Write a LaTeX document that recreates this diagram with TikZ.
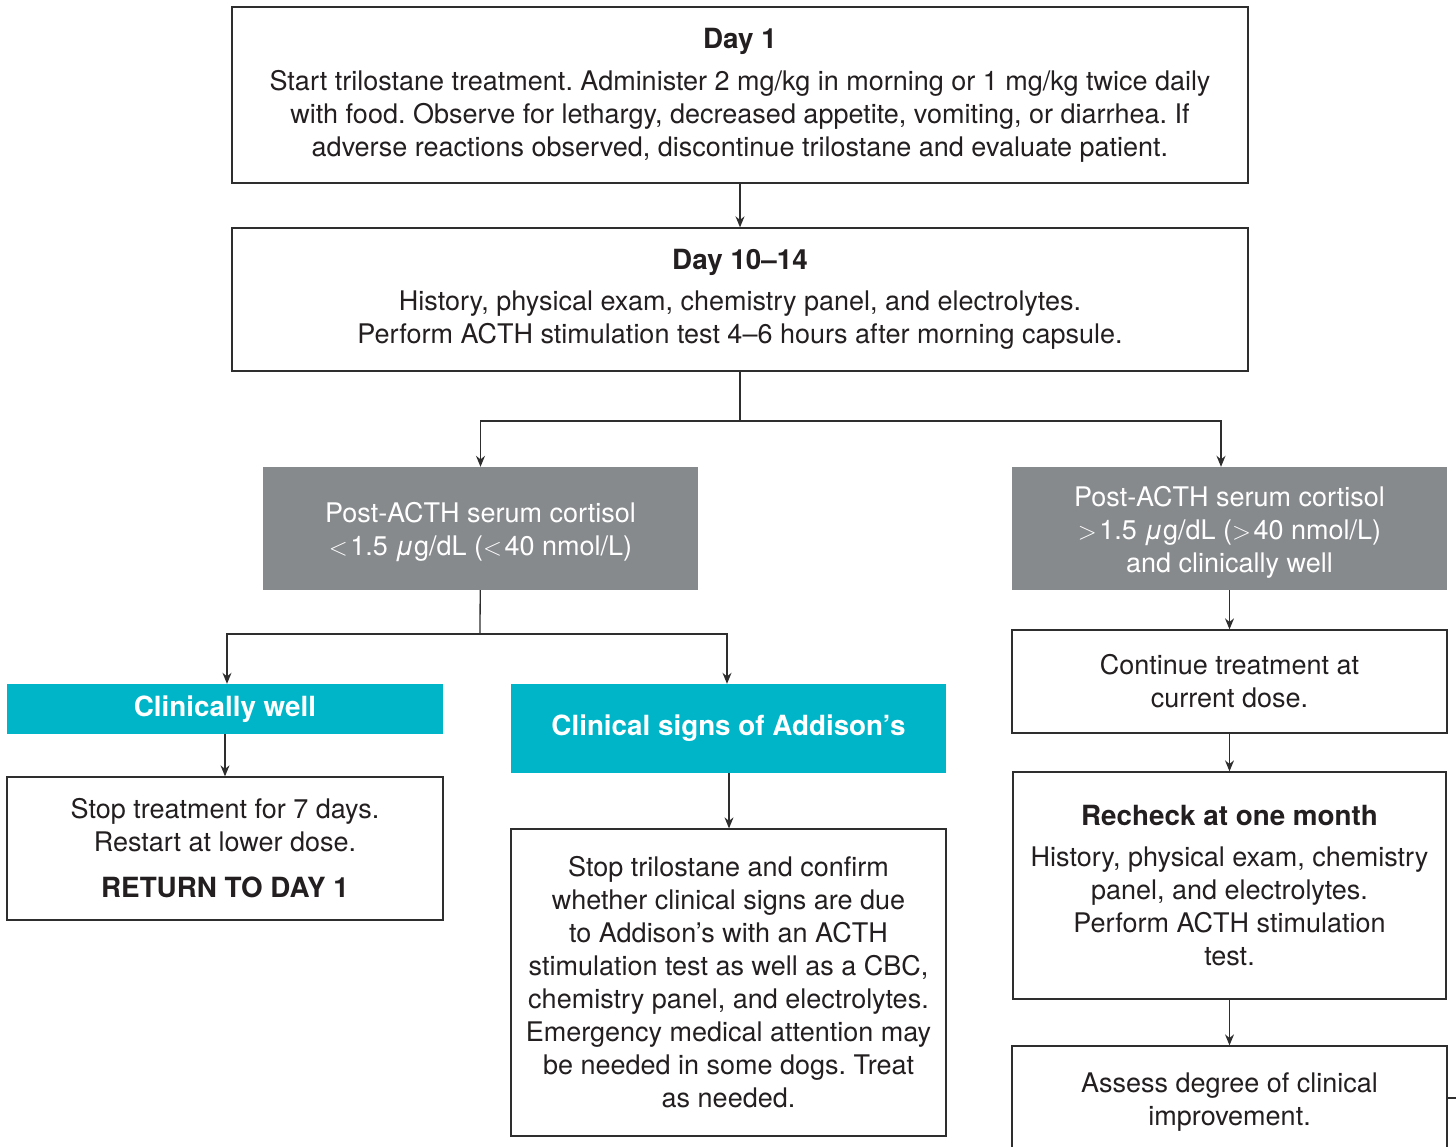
\documentclass[tikz,border=0pt]{standalone}
\usepackage{fontspec}
\setmainfont{TeX Gyre Heros}
\usetikzlibrary{arrows.meta}
\definecolor{txt}{HTML}{231F20}
\definecolor{linec}{HTML}{2E2E2E}
\definecolor{gbox}{HTML}{878A8D}
\definecolor{tealbox}{HTML}{00B5C8}
\newcommand{\bt}[1]{{\fontsize{27.8}{33}\selectfont\bfseries #1}}
\tikzset{
  base/.style={align=center, inner sep=0pt, font=\fontsize{27}{33}\selectfont\frenchspacing},
  wbox/.style={base, draw=linec, line width=1.3pt, fill=white, text=txt},
  gboxs/.style={base, fill=gbox, text=white},
  gtext/.style={base, text=white},
  tbox/.style={base, fill=tealbox, text=white, font=\fontsize{27.8}{33}\selectfont\bfseries},
  conn/.style={draw=linec, line width=1.3pt},
  arr/.style={conn, -{Stealth[length=11pt,width=9pt]}},
}
\begin{document}
\begin{tikzpicture}[x=1pt,y=-1pt]
\useasboundingbox (0,0) rectangle (1456,1147);
\node[wbox, minimum width=1016pt, minimum height=176pt] (day1) at (740,95)
  {\bt{Day 1}\\[9pt]Start trilostane treatment. Administer 2 mg/kg in morning or 1 mg/kg twice daily\\with food. Observe for lethargy, decreased appetite, vomiting, or diarrhea. If\\adverse reactions observed, discontinue trilostane and evaluate patient.};
\node[wbox, minimum width=1016pt, minimum height=143pt] (day10) at (740,299.5)
  {\bt{Day 10–14}\\[8pt]History, physical exam, chemistry panel, and electrolytes.\\Perform ACTH stimulation test 4–6 hours after morning capsule.};
\node[gboxs, minimum width=435pt, minimum height=123pt] (greyL) at (480.5,528.5) {};
\node[gtext] (greyLt) at ([yshift=-3.5pt]greyL.center)
  {Post-ACTH serum cortisol\\$<$\hspace{2.5pt}1.5 {\itshape μ}g/dL ($<$\hspace{2.5pt}40 nmol/L)};
\node[gboxs, minimum width=435pt, minimum height=123pt] (greyR) at (1229.5,528.5) {};
\node[gtext] (greyRt) at ([yshift=-3.5pt]greyR.center)
  {Post-ACTH serum cortisol\\$>$\hspace{2.5pt}1.5 {\itshape μ}g/dL ($>$\hspace{2.5pt}40 nmol/L)\\and clinically well};
\node[tbox, minimum width=436pt, minimum height=50pt] (well) at (225,709) {Clinically well};
\node[tbox, minimum width=435pt, minimum height=89pt] (addison) at (728.5,728.5) {Clinical signs of Addison’s};
\node[wbox, minimum width=436pt, minimum height=143pt] (stop) at (225,848.5)
  {Stop treatment for 7 days.\\Restart at lower dose.\\[13pt]\bt{RETURN TO DAY 1}};
\node[wbox, minimum width=435pt, minimum height=307pt] (stoptri) at (728.5,982.5)
  {Stop trilostane and confirm\\whether clinical signs are due\\to Addison’s with an ACTH\\stimulation test as well as a CBC,\\chemistry panel, and electrolytes.\\Emergency medical attention may\\be needed in some dogs. Treat\\as needed.};
\node[wbox, minimum width=435pt, minimum height=103pt] (cont) at (1229.5,681.5)
  {Continue treatment at\\current dose.};
\node[wbox, minimum width=433pt, minimum height=227pt] (recheck) at (1229.5,885.5)
  {\bt{Recheck at one month}\\[8pt]History, physical exam, chemistry\\panel, and electrolytes.\\Perform ACTH stimulation\\test.};
\node[wbox, minimum width=435pt, minimum height=113pt] (assess) at (1229.5,1102.5)
  {Assess degree of clinical\\improvement.};
\coordinate (split1) at (740,421);
\coordinate (split2) at (480,634);
\coordinate (exitR) at (1456,1098);
\draw[arr] (day1) -- (day10);
\draw[conn] (day10) -- (split1);
\draw[arr] (split1) -| (greyL.north);
\draw[arr] (split1) -| ([xshift=-8.5pt]greyR.north);
\draw[conn] (greyL) -- (split2);
\draw[arr] (split2) -| ([xshift=2pt]well.north);
\draw[arr] (split2) -| ([xshift=-1.5pt]addison.north);
\draw[arr] (well) -- (stop);
\draw[arr] ([xshift=0.5pt]addison.south) -- ([xshift=0.5pt]stoptri.north);
\draw[arr] (greyR) -- (cont);
\draw[arr] (cont) -- (recheck);
\draw[arr] (recheck) -- (assess);
\draw[conn] (assess.east |- exitR) -- (exitR);
\end{tikzpicture}
\end{document}
